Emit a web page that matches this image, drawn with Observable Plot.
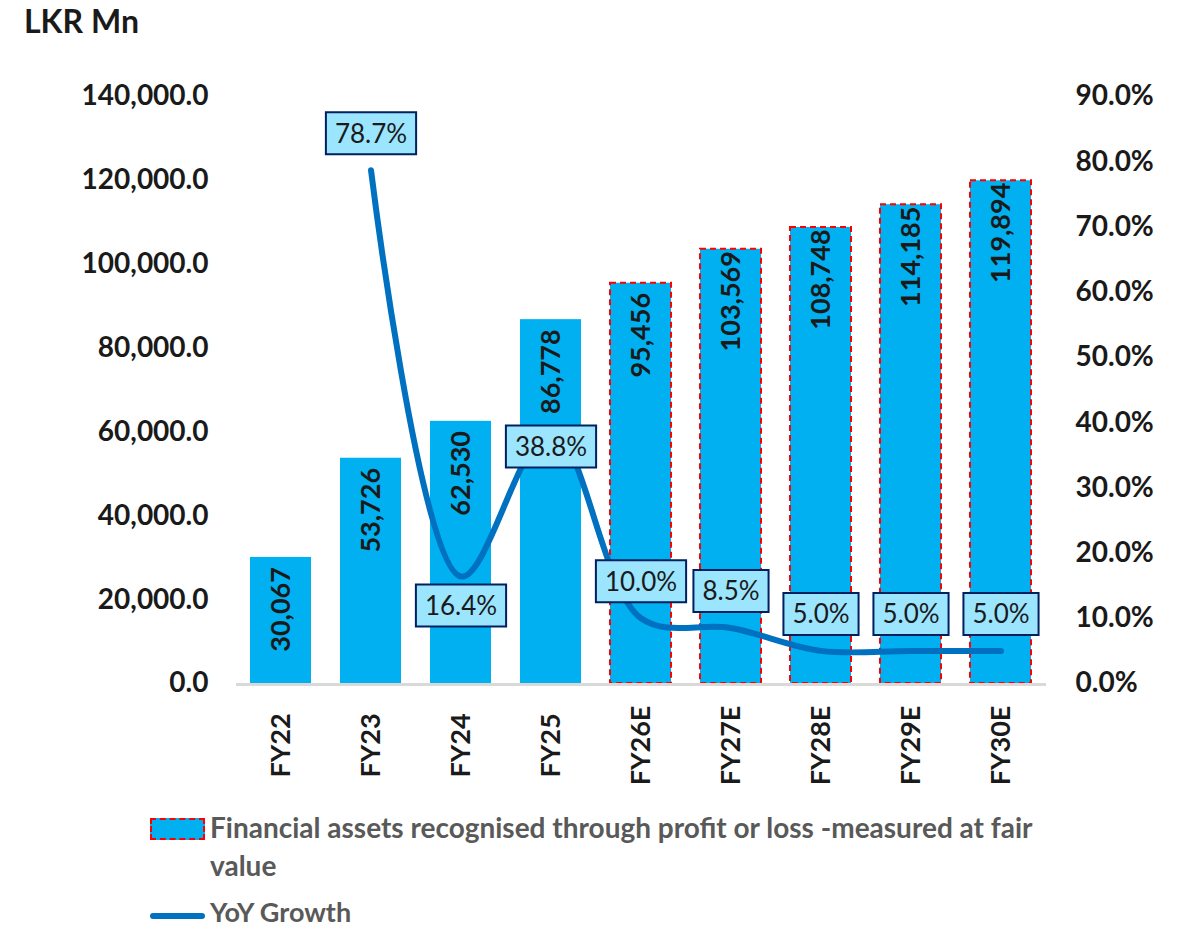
<!DOCTYPE html>
<html>
<head>
<meta charset="utf-8">
<script src="https://cdn.jsdelivr.net/npm/d3@7"></script>
<script src="https://cdn.jsdelivr.net/npm/@observablehq/plot@0.6"></script>
<style>
  html, body { margin: 0; padding: 0; background: #fff; }
  #wrap { position: relative; width: 1182px; height: 932px; font-family: Lato, "Open Sans", sans-serif; }
  #title { position: absolute; left: 24px; top: 1px; font-size: 32px; font-weight: bold; color: #1a1a1a; }
  #chart { position: absolute; left: 0; top: 60px; }
  .leg { position: absolute; font-size: 28px; font-weight: bold; color: #595959; line-height: 38px; }
  .sw1 { position: absolute; left: 150px; top: 818px; width: 51px; height: 18px; background: #00B0F0; border: 2px dashed #FF0000; }
  .sw2 { position: absolute; left: 150px; top: 913px; width: 55px; height: 6px; background: #0070C0; border-radius: 3px; }
</style>
</head>
<body>
<div id="wrap">
  <div id="title">LKR Mn</div>
  <div id="chart"></div>
  <div class="sw1"></div>
  <div class="leg" style="left:210px; top:808px; width:880px;">Financial assets recognised through profit or loss -measured at fair value</div>
  <div class="sw2"></div>
  <div class="leg" style="left:210px; top:898px; line-height:28px; font-size:27px;">YoY Growth</div>
</div>
<script>
const categories = ["FY22", "FY23", "FY24", "FY25", "FY26E", "FY27E", "FY28E", "FY29E", "FY30E"];
const assets = [30067, 53726, 62530, 86778, 95456, 103569, 108748, 114185, 119894];
const growth = [null, 78.7, 16.4, 38.8, 10.0, 8.5, 5.0, 5.0, 5.0];
const estimated = [false, false, false, false, true, true, true, true, true];
const leftTicks = [0, 20000, 40000, 60000, 80000, 100000, 120000, 140000];
const rightTicks = [0, 10, 20, 30, 40, 50, 60, 70, 80, 90];

const yMax = 140000, pMax = 90, k = yMax / pMax;

const rows = categories.map((c, i) => ({cat: c, value: assets[i], est: estimated[i], g: growth[i]}));
const lineRows = rows.filter(d => d.g != null);

const ctx = document.createElement("canvas").getContext("2d");
ctx.font = "26px Lato";
const pctText = d => d.g.toFixed(1) + "%";
const halfW = d => (ctx.measureText(pctText(d)).width + 18) / 2;

const boxSymbol = {
  draw(c, size) {
    const w = Math.sqrt(size / Math.PI);
    c.moveTo(-w, -21); c.lineTo(w, -21); c.lineTo(w, 21); c.lineTo(-w, 21); c.closePath();
  }
};

function labelMarks(data, dy) {
  return [
    Plot.dot(data, {x: "cat", y: d => d.g * k, r: halfW, symbol: boxSymbol, fill: "#9BE5FF", stroke: "#002060", strokeWidth: 2, dy}),
    Plot.text(data, {x: "cat", y: d => d.g * k, text: pctText, fontSize: 26, fill: "#1a1a1a", fontWeight: "normal", lineAnchor: "middle", dy: dy + 1})
  ];
}

const above = lineRows.filter(d => d.cat !== "FY24" && d.cat !== "FY25");
const below24 = lineRows.filter(d => d.cat === "FY24");
const at25 = lineRows.filter(d => d.cat === "FY25");

const chart = Plot.plot({
  width: 1182,
  height: 745,
  marginTop: 36,
  marginBottom: 122,
  marginLeft: 236,
  marginRight: 136,
  style: {fontFamily: "Lato, 'Open Sans', sans-serif", fontSize: "28px", fontWeight: "bold", color: "#1a1a1a", background: "transparent"},
  x: {domain: categories, paddingInner: 0.32, paddingOuter: 0.16, axis: null},
  y: {domain: [0, yMax], axis: null},
  r: {type: "identity"},
  marks: [
    Plot.axisY(leftTicks, {anchor: "left", label: null, tickSize: 0, tickPadding: 28, tickFormat: d => d3.format(",.1f")(d), fontSize: 28, fontWeight: "bold", fill: "#1a1a1a"}),
    Plot.axisY(rightTicks.map(p => p * k), {anchor: "right", label: null, tickSize: 0, tickPadding: 29, tickFormat: v => (v / k).toFixed(1) + "%", fontSize: 28, fontWeight: "bold", fill: "#1a1a1a"}),
    Plot.axisX({anchor: "bottom", label: null, tickSize: 0, tickPadding: 62, tickRotate: -90, textAnchor: "middle", lineAnchor: "middle", fontSize: 27, fontWeight: "bold", fill: "#1a1a1a"}),
    Plot.barY(rows, {x: "cat", y: "value", fill: "#00B0F0"}),
    Plot.barY(rows.filter(d => d.est), {x: "cat", y: "value", fill: "none", stroke: "#FF0000", strokeWidth: 2, strokeDasharray: "6,4"}),
    Plot.ruleY([0], {stroke: "#D9D9D9", strokeWidth: 3, dy: 1}),
    Plot.text(rows, {x: "cat", y: "value", text: d => d3.format(",")(d.value), rotate: -90, dy: 52, fontSize: 27, fontWeight: "bold", fill: "#1a1a1a"}),
    Plot.line(lineRows, {x: "cat", y: d => d.g * k, stroke: "#0070C0", strokeWidth: 6, curve: "catmull-rom", strokeLinecap: "round"}),
    ...labelMarks(above, -37),
    ...labelMarks(below24, 29),
    ...labelMarks(at25, 16)
  ]
});
document.getElementById("chart").appendChild(chart);
</script>
</body>
</html>
